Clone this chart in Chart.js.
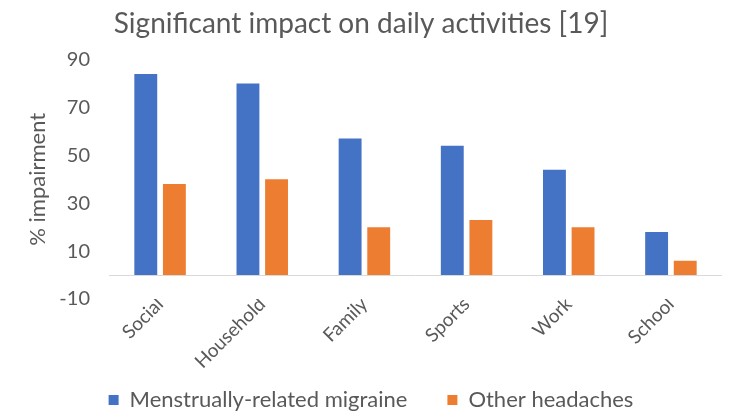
<!DOCTYPE html>
<html>
<head>
<meta charset="utf-8">
<script src="https://cdn.jsdelivr.net/npm/chart.js@4.4.1/dist/chart.umd.min.js"></script>
<style>
    html, body { margin: 0; padding: 0; background: #fff; }
    #wrap { width: 736px; height: 413px; }
</style>
</head>
<body>
<div id="wrap"><canvas id="impactChart" width="736" height="413"></canvas></div>
<script>
(function () {
    // ------- Datos -------
    const categories = ['Social', 'Household', 'Family', 'Sports', 'Work', 'School'];
    const migraine = [84, 80, 57, 54, 44, 18];
    const otherHeadaches = [38, 40, 20, 23, 20, 6];
    const seriesNames = ['Menstrually-related migraine', 'Other headaches'];
    const yTicks = { min: -10, max: 90, step: 20 };

    const TEXT = '#595959';
    const FONT = 'Lato, "Liberation Sans", sans-serif';

    // linea horizontal en el cero (eje de categorias)
    const zeroLine = {
        id: 'zeroLine',
        beforeDatasetsDraw(chart) {
            const y = chart.scales.y.getPixelForValue(0);
            const { left, right } = chart.chartArea;
            const ctx = chart.ctx;
            ctx.save();
            ctx.strokeStyle = '#d9d9d9';
            ctx.lineWidth = 1;
            ctx.beginPath();
            ctx.moveTo(left, Math.round(y) + 0.5);
            ctx.lineTo(right, Math.round(y) + 0.5);
            ctx.stroke();
            ctx.restore();
        }
    };

    // ajustes despues del layout: leyenda mas abajo, titulo centrado sobre el grafico,
    // y el area de etiquetas del eje x hasta el fondo (si no, se recortan)
    const boxOffsets = {
        id: 'boxOffsets',
        afterLayout(chart, args, opts) {
            const lg = chart.legend;
            if (lg) { lg.top += opts.legendY; lg.bottom += opts.legendY; }
            const tb = chart.titleBlock;
            if (tb) { tb.left += opts.titleX; tb.right += opts.titleX; }
            const x = chart.scales.x;
            if (x) x.bottom = chart.height;
        }
    };

    const ctx = document.getElementById('impactChart').getContext('2d');
    new Chart(ctx, {
        type: 'bar',
        data: {
            labels: categories,
            datasets: [
                { label: seriesNames[0], data: migraine, backgroundColor: '#4472C4' },
                { label: seriesNames[1], data: otherHeadaches, backgroundColor: '#ED7D31' }
            ]
        },
        options: {
            responsive: false,
            animation: false,
            layout: { padding: { left: 20, right: 14, top: 7, bottom: 0 } },
            datasets: { bar: { categoryPercentage: 0.56, barPercentage: 0.8 } },
            plugins: {
                boxOffsets: { legendY: 8, titleX: -10 },
                title: {
                    display: true,
                    text: 'Significant impact on daily activities [19]',
                    color: TEXT,
                    font: { family: FONT, size: 28, weight: 'normal' },
                    padding: { top: 0, bottom: 19 }
                },
                legend: {
                    position: 'bottom',
                    labels: {
                        color: TEXT,
                        font: { family: FONT, size: 22 },
                        boxWidth: 10,
                        boxHeight: 10,
                        padding: 40
                    }
                },
                tooltip: { enabled: false }
            },
            scales: {
                x: {
                    grid: { display: false, drawTicks: false },
                    border: { display: false },
                    ticks: {
                        color: TEXT,
                        font: { family: FONT, size: 19 },
                        minRotation: 45,
                        maxRotation: 45,
                        padding: -6
                    },
                    afterFit(scale) { scale.height = 42; }
                },
                y: {
                    min: yTicks.min,
                    max: yTicks.max,
                    grid: { display: false, drawTicks: false },
                    border: { display: false },
                    ticks: {
                        stepSize: yTicks.step,
                        color: TEXT,
                        font: { family: FONT, size: 20 },
                        padding: 19
                    },
                    title: {
                        display: true,
                        text: '% impairment',
                        color: TEXT,
                        font: { family: FONT, size: 22 },
                        padding: { top: 5, bottom: 0 }
                    },
                    afterFit(scale) { scale.width = 89; }
                }
            }
        },
        plugins: [zeroLine, boxOffsets]
    });
})();
</script>
</body>
</html>
